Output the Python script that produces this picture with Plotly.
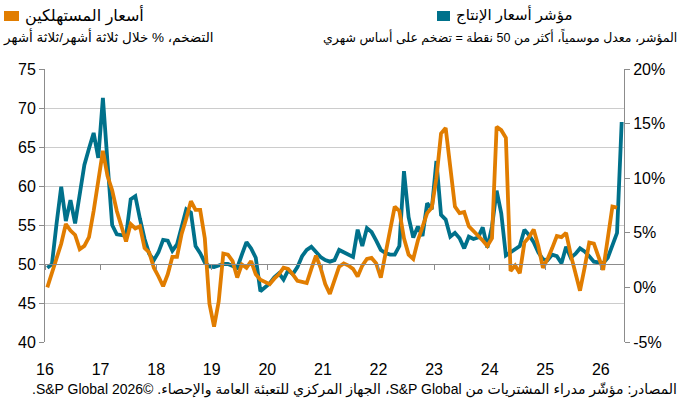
import plotly.graph_objects as go

# Monthly data, Jan 2016 .. May 2026 (index 0 = Jan 2016)
input_prices = [
    49.5, 50.0, 55.2, 59.9, 55.5, 58.2, 55.2, 59.0, 62.7, 64.8, 66.8, 63.6,   # 2016
    71.3, 63.0, 55.0, 53.8, 53.7, 53.6, 58.3, 58.7, 55.8, 53.2, 51.3, 50.5,   # 2017
    51.5, 53.1, 53.0, 51.7, 52.5, 54.8, 57.0, 56.6, 52.3, 51.4, 50.2, 49.7,   # 2018
    49.6, 49.8, 50.0, 50.0, 49.8, 49.5, 51.2, 52.8, 52.0, 50.8, 46.5, 47.0,   # 2019
    47.5, 48.3, 48.8, 48.0, 49.2, 48.7, 49.6, 51.0, 51.8, 52.2, 51.5, 50.9,   # 2020
    50.5, 50.3, 50.5, 51.8, 51.5, 51.2, 50.9, 54.4, 52.3, 54.6, 54.1, 53.0,   # 2021
    51.8, 51.4, 51.2, 51.2, 52.3, 61.9, 56.0, 53.4, 54.8, 53.6, 57.8, 57.0,   # 2022
    63.2, 56.3, 55.7, 53.5, 54.0, 53.3, 52.0, 53.5, 53.2, 53.4, 54.7, 52.1,   # 2023
    54.8, 59.4, 56.5, 51.1, 51.5, 51.8, 52.3, 54.4, 53.7, 52.8, 51.5, 50.6,   # 2024
    50.5, 51.2, 51.0, 50.1, 52.2, 50.8, 51.3, 52.0, 51.6, 51.0, 50.3, 50.2,   # 2025
    50.1, 50.8, 52.5, 54.0, 68.2,                                             # 2026
]

cpi_3m3m = [
    0.0, 1.3, 2.8, 4.0, 5.8, 5.2, 4.8, 3.5, 3.8, 4.6, 7.0, 10.0,              # 2016
    12.5, 10.2, 8.9, 7.0, 5.5, 4.2, 5.8, 5.4, 5.6, 3.6, 3.2, 1.8,             # 2017
    1.0, 0.1, 1.2, 2.8, 2.8, 4.9, 6.3, 7.9, 7.1, 7.1, 4.5, -1.5,              # 2018
    -3.6, -1.3, 3.1, 3.0, 2.4, 0.9, 2.1, 1.8, 2.4, 1.2, 0.7, 0.5,             # 2019
    0.3, 0.8, 1.2, 1.8, 1.7, 1.2, 0.6, 0.5, 0.4, 1.7, 2.9, 1.8,               # 2020
    0.3, -0.6, 0.7, 1.9, 2.2, 2.0, 1.7, 1.0, 2.0, 2.6, 2.7, 2.2,              # 2021
    0.9, 3.0, 5.5, 7.4, 7.0, 4.5, 3.0, 2.6, 4.3, 5.5, 6.8, 7.3,               # 2022
    10.0, 14.1, 14.6, 11.0, 7.4, 6.8, 6.9, 5.6, 5.2, 4.7, 4.3, 3.8,           # 2023
    4.5, 14.7, 14.4, 13.7, 1.5, 2.0, 1.3, 4.1, 4.6, 5.3, 3.8, 1.8,            # 2024
    2.6, 3.6, 4.7, 4.6, 5.0, 3.0, 1.3, -0.3, 1.8, 4.1, 4.0, 2.8,              # 2025
    1.6, 4.5, 7.4, 7.3,                                                       # 2026
]

year_labels = ["16", "17", "18", "19", "20", "21", "22", "23", "24", "25", "26"]
left_ticks = [40, 45, 50, 55, 60, 65, 70, 75]
right_ticks = [-5, 0, 5, 10, 15, 20]

TEAL = "#00718b"
ORANGE = "#e17d00"
AXIS = "#8c8c8c"
GRID = "#cccccc"
FONT = "Liberation Sans, Arial, DejaVu Sans, sans-serif"

x_in = list(range(len(input_prices)))
x_cpi = list(range(len(cpi_3m3m)))
tickpos = [-0.5 + 12 * k for k in range(len(year_labels))]

fig = go.Figure()
fig.add_trace(go.Scatter(x=x_cpi, y=cpi_3m3m, yaxis="y2", mode="lines",
                         line=dict(color=ORANGE, width=3.8), hoverinfo="skip"))
fig.add_trace(go.Scatter(x=x_in, y=input_prices, mode="lines",
                         line=dict(color=TEAL, width=3.8), hoverinfo="skip"))
# helper (invisible) trace so the crossing axis at 50 is drawn
fig.add_trace(go.Scatter(x=[x_in[0]], y=[50], xaxis="x2", mode="markers",
                         marker=dict(opacity=0), hoverinfo="skip"))

W, H = 681, 407
L, R, T, B = 45, 57, 69, 65
pw, ph = W - L - R, H - T - B


def px(x):
    return (x - L) / pw


def py(y):
    return (H - B - y) / ph


def rtl(s):
    return "\u202B" + s + "\u202C"


xr = [-0.5, 124.5]
fig.update_layout(
    template="none",
    width=W, height=H,
    margin=dict(l=L, r=R, t=T, b=B, autoexpand=False),
    paper_bgcolor="white", plot_bgcolor="white",
    showlegend=False,
    font=dict(family=FONT, color="#000000"),
    xaxis=dict(range=xr, tickvals=tickpos, ticktext=year_labels, automargin=False,
               showgrid=False, zeroline=False, showline=False,
               ticks="outside", ticklen=13, tickcolor="rgba(0,0,0,0)",
               tickfont=dict(size=16, family=FONT, color="#000000")),
    xaxis2=dict(range=xr, overlaying="x", anchor="free", position=(50 - 40) / 35,
                tickvals=tickpos, showticklabels=False, showgrid=False, automargin=False,
                zeroline=False, showline=True, linecolor=AXIS, linewidth=1,
                ticks="outside", ticklen=5, tickcolor=AXIS),
    yaxis=dict(range=[40, 75], tickvals=left_ticks, showgrid=True, automargin=False,
               gridcolor=GRID, gridwidth=1, zeroline=False,
               showline=True, linecolor=AXIS, linewidth=1,
               ticks="outside", ticklen=5, tickcolor=AXIS,
               tickfont=dict(size=16, family=FONT, color="#000000")),
    yaxis2=dict(range=[-5, 20], tickvals=right_ticks, automargin=False,
                ticktext=[f"{v}%" for v in right_ticks], overlaying="y",
                side="right", showgrid=False, zeroline=False,
                showline=True, linecolor=AXIS, linewidth=1,
                ticks="outside", ticklen=5, tickcolor=AXIS,
                tickfont=dict(size=16, family=FONT, color="#000000")),
)

shapes = [
    dict(type="rect", xref="paper", yref="paper", x0=px(4), x1=px(19),
         y0=py(21), y1=py(11), fillcolor=ORANGE, line=dict(width=0)),
    dict(type="rect", xref="paper", yref="paper", x0=px(437), x1=px(450),
         y0=py(21), y1=py(11), fillcolor=TEAL, line=dict(width=0)),
]
fig.update_layout(shapes=shapes)

ann = [
    dict(text=rtl("أسعار المستهلكين"), x=px(23), y=py(15), xanchor="left",
         yanchor="middle", font=dict(size=16)),
    dict(text=rtl("مؤشر أسعار الإنتاج"), x=px(454), y=py(15), xanchor="left",
         yanchor="middle", font=dict(size=15)),
    dict(text=rtl("التضخم، % خلال ثلاثة أشهر/ثلاثة أشهر"), x=px(1), y=py(37),
         xanchor="left", yanchor="middle", font=dict(size=13.5)),
    dict(text=rtl("المؤشر، معدل موسمياً، أكثر من 50 نقطة = تضخم على أساس شهري"),
         x=px(679), y=py(37), xanchor="right", yanchor="middle", font=dict(size=12.5)),
    dict(text=rtl("المصادر: مؤشّر مدراء المشتريات من S&P Global، الجهاز المركزي للتعبئة العامة والإحصاء. ©2026 S&P Global."),
         x=px(679), y=py(389), xanchor="right", yanchor="middle", font=dict(size=14)),
]
for a in ann:
    a.update(xref="paper", yref="paper", showarrow=False)
fig.update_layout(annotations=ann)

fig.write_html(
    "out.html",
    config={"displayModeBar": False},
    post_script="document.body.style.margin='0';document.body.style.padding='0';",
)
